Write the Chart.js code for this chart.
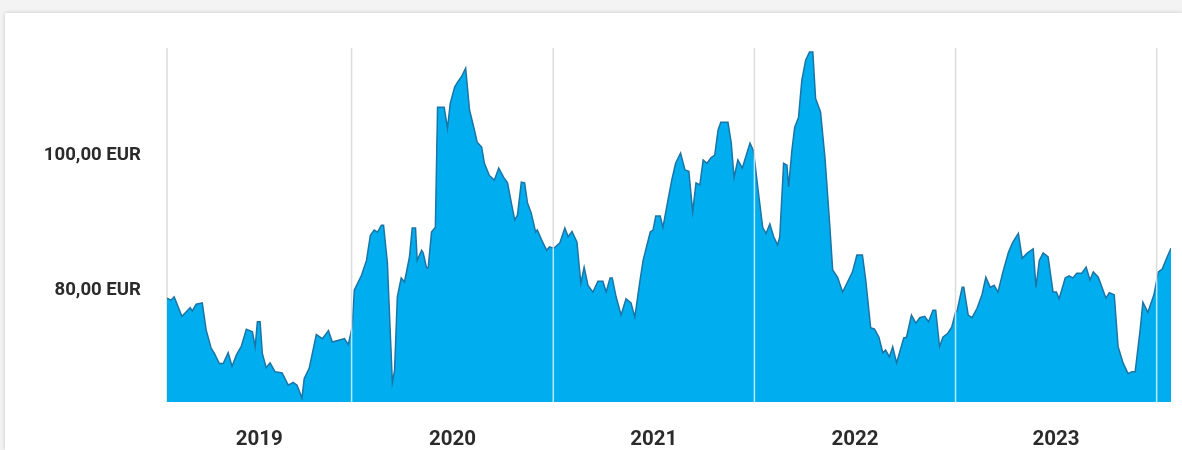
<!DOCTYPE html>
<html>
<head>
<meta charset="utf-8">
<script src="https://cdn.jsdelivr.net/npm/chart.js@4/dist/chart.umd.min.js"></script>
<style>
  html, body { margin: 0; padding: 0; width: 1182px; height: 450px; overflow: hidden; background: #f3f3f3; }
  .card { position: absolute; left: 5px; top: 13px; right: 0; bottom: 0; background: #fff;
          box-shadow: 0 0 4px rgba(0,0,0,0.18); }
  .wrap { position: absolute; left: 0; top: 0; width: 1182px; height: 450px; }
</style>
</head>
<body>
<div class="card"></div>
<div class="wrap"><canvas id="c" width="1182" height="450"></canvas></div>
<script>
const dates = [
  "2019-01-31","2019-02-07","2019-02-13","2019-02-27","2019-03-07","2019-03-14","2019-03-18","2019-03-25",
  "2019-04-05","2019-04-12","2019-04-21","2019-04-27","2019-05-06","2019-05-13","2019-05-22","2019-05-29",
  "2019-06-06","2019-06-15","2019-06-24","2019-07-05","2019-07-10","2019-07-14","2019-07-19","2019-07-23",
  "2019-07-30","2019-08-06","2019-08-15","2019-08-28","2019-09-08","2019-09-17","2019-09-24","2019-10-03",
  "2019-10-07","2019-10-16","2019-10-29","2019-11-09","2019-11-20","2019-11-27","2019-12-10","2019-12-19",
  "2019-12-26",
  "2020-01-02","2020-01-06","2020-01-19","2020-01-28","2020-02-04","2020-02-11","2020-02-17","2020-02-24",
  "2020-02-28","2020-03-06","2020-03-10","2020-03-15","2020-03-19","2020-03-24","2020-03-31","2020-04-06",
  "2020-04-15","2020-04-20","2020-04-26","2020-04-29","2020-05-07","2020-05-10","2020-05-16","2020-05-19",
  "2020-05-25","2020-06-01","2020-06-05","2020-06-17","2020-06-23","2020-06-28","2020-07-06","2020-07-11",
  "2020-07-18","2020-07-26","2020-08-02","2020-08-11","2020-08-16","2020-08-24","2020-08-29","2020-09-07",
  "2020-09-16","2020-09-24","2020-10-03","2020-10-10","2020-10-17","2020-10-23","2020-10-28","2020-11-04",
  "2020-11-10","2020-11-15","2020-11-22","2020-11-30","2020-12-03","2020-12-11","2020-12-20","2020-12-25",
  "2021-01-02","2021-01-13","2021-01-22","2021-01-28","2021-02-04","2021-02-13","2021-02-20","2021-02-26",
  "2021-03-05","2021-03-14","2021-03-23","2021-04-01","2021-04-07","2021-04-14","2021-04-18","2021-04-25",
  "2021-05-04","2021-05-13","2021-05-22","2021-05-29","2021-06-07","2021-06-13","2021-06-26","2021-07-01",
  "2021-07-06","2021-07-14","2021-07-19","2021-07-28","2021-08-04","2021-08-11","2021-08-20","2021-08-28",
  "2021-09-04","2021-09-11","2021-09-17","2021-09-24","2021-09-30","2021-10-07","2021-10-14","2021-10-21",
  "2021-10-27","2021-11-01","2021-11-14","2021-11-20","2021-11-25","2021-12-02","2021-12-10","2021-12-24",
  "2021-12-30",
  "2022-01-02","2022-01-07","2022-01-16","2022-01-22","2022-01-29","2022-02-05","2022-02-12","2022-02-16",
  "2022-02-23","2022-03-01","2022-03-04","2022-03-10","2022-03-15","2022-03-22","2022-03-28","2022-04-04",
  "2022-04-11","2022-04-17","2022-04-22","2022-05-01","2022-05-09","2022-05-18","2022-05-23","2022-06-01",
  "2022-06-10","2022-06-19","2022-06-28","2022-07-06","2022-07-16","2022-07-22","2022-07-31","2022-08-07",
  "2022-08-15","2022-08-22","2022-08-27","2022-09-03","2022-09-09","2022-09-16","2022-09-29","2022-10-04",
  "2022-10-13","2022-10-21","2022-10-28","2022-11-06","2022-11-13","2022-11-21","2022-11-26","2022-12-03",
  "2022-12-09","2022-12-18","2022-12-25",
  "2023-01-01","2023-01-04","2023-01-13","2023-01-16","2023-01-24","2023-01-31","2023-02-09","2023-02-18",
  "2023-02-25","2023-03-05","2023-03-12","2023-03-19","2023-03-28","2023-04-07","2023-04-15","2023-04-25",
  "2023-05-02","2023-05-11","2023-05-22","2023-05-27","2023-06-02","2023-06-09","2023-06-18","2023-06-27",
  "2023-07-03","2023-07-08","2023-07-19","2023-07-26","2023-08-02","2023-08-09","2023-08-18","2023-08-26",
  "2023-09-02","2023-09-08","2023-09-17","2023-10-01","2023-10-07","2023-10-16","2023-10-23","2023-11-01",
  "2023-11-10","2023-11-17","2023-11-23","2023-12-02","2023-12-07","2023-12-16","2023-12-27",
  "2024-01-04","2024-01-11","2024-01-20","2024-01-27"
];

const prices = [
  78.8,78.5,79.0,76.1,76.8,77.4,76.9,77.9,
  78.1,74.1,71.4,70.6,69.1,69.1,70.7,68.7,
  70.4,71.7,74.2,73.8,71.6,75.3,75.3,70.6,
  68.5,69.2,67.9,67.7,65.9,66.3,65.9,64.0,
  66.9,68.4,73.4,72.8,74.0,72.3,72.6,72.8,
  71.9,
  74.5,80.0,82.2,84.4,88.1,88.9,88.6,89.6,
  89.6,84.0,76.0,66.3,68.1,79.0,81.8,81.2,
  84.9,89.2,89.2,84.4,85.9,85.5,83.3,83.3,
  88.6,89.3,107.1,107.1,104.0,107.7,110.1,110.8,
  111.6,112.9,106.7,103.7,101.9,101.2,98.8,97.0,
  96.3,98.1,96.7,95.9,92.9,90.4,91.1,96.0,
  95.9,93.0,91.4,88.6,88.9,87.4,85.9,86.4,
  86.2,87.0,89.2,87.9,88.7,87.1,81.0,83.4,
  80.7,79.7,81.3,81.3,79.7,81.8,81.8,79.0,
  76.3,78.7,78.1,76.0,81.2,84.4,88.6,88.9,
  91.0,91.0,89.3,93.3,96.3,98.8,100.3,97.8,
  97.6,91.6,95.9,95.6,99.3,98.8,99.6,100.0,
  103.7,104.9,104.9,101.8,96.7,99.3,98.1,101.8,
  100.7,
  98.8,95.3,89.3,88.4,89.8,87.9,86.7,87.9,
  98.8,98.5,95.3,100.7,104.1,105.6,111.1,114.1,
  115.3,115.3,108.4,106.4,99.7,89.3,83.0,81.9,
  79.7,81.2,82.7,85.2,85.2,81.5,74.4,74.2,
  73.0,70.7,71.1,70.1,71.6,69.2,72.9,73.0,
  76.3,75.1,75.9,76.1,75.3,77.0,77.0,71.6,
  73.0,73.6,74.5,
  76.7,77.0,80.4,80.4,76.3,75.9,77.3,79.3,
  81.9,80.4,80.7,79.7,82.7,85.6,87.1,88.4,
  84.7,85.5,86.1,80.4,84.4,85.5,84.9,79.7,
  79.7,78.7,81.8,82.1,81.8,82.5,82.5,83.4,
  81.5,82.7,81.9,78.8,79.6,79.3,71.6,69.2,
  67.6,67.9,67.9,74.1,78.2,76.7,79.3,
  82.7,83.1,84.9,86.2
];

const yearLabels = ["2019", "2020", "2021", "2022", "2023"];
const yTickValues = [80, 100];
const yRange = { min: 63.4, max: 115.6 };

const points = dates.map((d, i) => ({ x: Date.parse(d), y: prices[i] }));
const firstT = points[0].x;
const lastT = points[points.length - 1].x;
const boundaryTimes = yearLabels.slice(1).map(y => Date.UTC(+y, 0, 1)).concat([Date.UTC(+yearLabels[yearLabels.length - 1] + 1, 0, 1)]);
const labelTimes = yearLabels.map((y, i) => {
  const start = Math.max(Date.UTC(+y, 0, 1), firstT);
  const end = Math.min(Date.UTC(+y + 1, 0, 1), lastT);
  return (start + end) / 2;
});

const yearLinesPlugin = {
  id: 'yearLines',
  afterDatasetsDraw(chart) {
    const { ctx, chartArea: a, scales: { x } } = chart;
    const inner = boundaryTimes.map(t => x.getPixelForValue(t)).filter(px => px > a.left && px < a.right);
    ctx.save();
    ctx.lineWidth = 1.5;
    ctx.globalCompositeOperation = 'source-atop';
    ctx.strokeStyle = 'rgba(255,255,255,0.72)';
    inner.forEach(px => { ctx.beginPath(); ctx.moveTo(px, a.top - 2); ctx.lineTo(px, a.bottom); ctx.stroke(); });
    ctx.globalCompositeOperation = 'destination-over';
    ctx.strokeStyle = '#dcdcdc';
    [a.left].concat(inner).forEach(px => { ctx.beginPath(); ctx.moveTo(px, a.top - 2); ctx.lineTo(px, a.bottom); ctx.stroke(); });
    ctx.restore();
  }
};

new Chart(document.getElementById('c'), {
  type: 'line',
  data: {
    datasets: [{
      data: points,
      fill: 'start',
      backgroundColor: '#00aeef',
      borderColor: '#1b74a6',
      borderWidth: 1.5,
      pointRadius: 0,
      tension: 0
    }]
  },
  plugins: [yearLinesPlugin],
  options: {
    responsive: false,
    animation: false,
    layout: { padding: { top: 50, right: 11, left: 0, bottom: 0 } },
    plugins: { legend: { display: false }, tooltip: { enabled: false } },
    scales: {
      x: {
        type: 'linear',
        min: firstT,
        max: lastT,
        grid: { display: false, drawTicks: false },
        border: { display: false },
        afterBuildTicks: s => { s.ticks = labelTimes.map(v => ({ value: v })); },
        afterFit: s => { s.height = 48; },
        ticks: {
          autoSkip: false,
          maxRotation: 0,
          padding: 26,
          color: '#2b2b2b',
          font: { family: 'Roboto', weight: 'bold', size: 20.5 },
          callback: (v) => { const i = labelTimes.indexOf(v); return i >= 0 ? yearLabels[i] : ''; }
        }
      },
      y: {
        min: yRange.min,
        max: yRange.max,
        grid: { display: false, drawTicks: false },
        border: { display: false },
        afterBuildTicks: s => { s.ticks = yTickValues.map(v => ({ value: v })); },
        afterFit: s => { s.width = 167; },
        ticks: {
          padding: 26,
          color: '#2b2b2b',
          font: { family: 'Roboto', weight: 'bold', size: 18.6 },
          callback: v => v.toFixed(2).replace('.', ',') + ' EUR'
        }
      }
    }
  }
});
</script>
</body>
</html>
